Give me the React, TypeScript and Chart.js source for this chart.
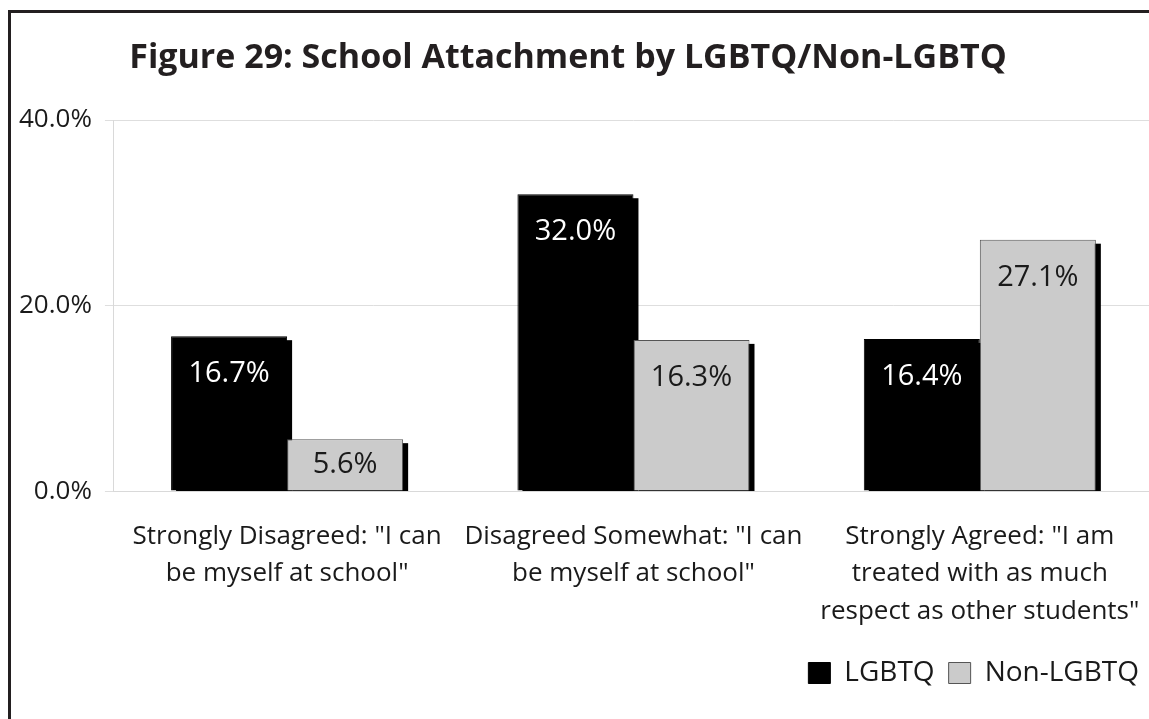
import React, { useEffect, useRef } from "react";
import { Chart, registerables } from "chart.js";

Chart.register(...registerables);

const chartTitle = "Figure 29: School Attachment by LGBTQ/Non-LGBTQ";
const categories: string[][] = [
  ['Strongly Disagreed: "I can', 'be myself at school"'],
  ['Disagreed Somewhat: "I can', 'be myself at school"'],
  ['Strongly Agreed: "I am', "treated with as much", 'respect as other students"'],
];
const seriesNames = ["LGBTQ", "Non-LGBTQ"];
const lgbtqValues = [16.7, 32.0, 16.4];
const nonLgbtqValues = [5.6, 16.3, 27.1];
const yTickValues = [0, 20, 40];

const FONT = "'Open Sans', 'DejaVu Sans', sans-serif";
const CANVAS_W = 1153;

const titlePlugin = {
  id: "customTitle",
  afterDraw(chart: any) {
    const { ctx } = chart;
    ctx.save();
    ctx.font = `bold 34px ${FONT}`;
    ctx.fillStyle = "#231f20";
    ctx.textAlign = "center";
    ctx.textBaseline = "alphabetic";
    ctx.fillText(chartTitle, 568, 68);
    ctx.restore();
  },
};

const shadowPlugin = {
  id: "barShadow",
  beforeDatasetsDraw(chart: any) {
    const { ctx, chartArea } = chart;
    ctx.save();
    ctx.beginPath();
    ctx.rect(chartArea.left, chartArea.top, chartArea.right - chartArea.left, chartArea.bottom - chartArea.top);
    ctx.clip();
    ctx.fillStyle = "#000000";
    chart.data.datasets.forEach((_ds: any, i: number) => {
      const meta = chart.getDatasetMeta(i);
      meta.data.forEach((bar: any) => {
        const { x, y, base, width } = bar.getProps(["x", "y", "base", "width"], true);
        ctx.fillRect(x - width / 2 + 5, y + 4, width, base - y);
      });
    });
    ctx.restore();
  },
};

const labelPlugin = {
  id: "barLabels",
  afterDatasetsDraw(chart: any) {
    const { ctx } = chart;
    ctx.save();
    ctx.font = `29px ${FONT}`;
    ctx.textAlign = "center";
    ctx.textBaseline = "middle";
    chart.data.datasets.forEach((ds: any, i: number) => {
      const meta = chart.getDatasetMeta(i);
      meta.data.forEach((bar: any, j: number) => {
        const { x, y, base } = bar.getProps(["x", "y", "base"], true);
        const cy = Math.min(y + 38, (y + base) / 2);
        ctx.fillStyle = i === 0 ? "#ffffff" : "#1a1a1a";
        ctx.fillText(ds.data[j].toFixed(1) + "%", x, cy);
      });
    });
    ctx.restore();
  },
};

export default function App() {
  const canvasRef = useRef<HTMLCanvasElement | null>(null);

  useEffect(() => {
    document.body.style.margin = "0";
    const canvas = canvasRef.current;
    if (!canvas) return;
    const chart = new Chart(canvas, {
      type: "bar",
      data: {
        labels: categories,
        datasets: [
          {
            label: seriesNames[0],
            data: lgbtqValues,
            backgroundColor: "#000000",
            borderColor: "#000000",
            borderWidth: 1,
            categoryPercentage: 0.67,
            barPercentage: 1,
          },
          {
            label: seriesNames[1],
            data: nonLgbtqValues,
            backgroundColor: "#cbcbcb",
            borderColor: "#555555",
            borderWidth: 1,
            categoryPercentage: 0.67,
            barPercentage: 1,
          },
        ],
      },
      options: {
        animation: false,
        responsive: false,
        maintainAspectRatio: false,
        layout: { padding: { left: 6, right: 0, top: 120, bottom: 22 } },
        plugins: {
          title: { display: false },
          legend: {
            display: true,
            position: "bottom",
            align: "end",
            labels: {
              boxWidth: 22,
              boxHeight: 21,
              padding: 14,
              color: "#1a1a1a",
              font: { family: FONT, size: 28 },
            },
          },
          tooltip: { enabled: false },
        },
        scales: {
          x: {
            grid: { display: false, drawTicks: false },
            border: { display: true, color: "#d9d9d9", width: 1 },
            afterFit: (axis: any) => {
              axis.height = axis.height - 12;
              axis.paddingRight = 0;
              axis.paddingLeft = 0;
            },
            ticks: {
              color: "#1a1a1a",
              font: { family: FONT, size: 26, lineHeight: 1.46 },
              padding: 26,
              maxRotation: 0,
              autoSkip: false,
            },
          },
          y: {
            min: 0,
            max: 40,
            afterBuildTicks: (axis: any) => {
              axis.ticks = yTickValues.map((v) => ({ value: v }));
            },
            grid: { color: "#dedede", tickLength: 9, drawTicks: true },
            border: { display: true, color: "#d9d9d9" },
            ticks: {
              color: "#1a1a1a",
              font: { family: FONT, size: 26 },
              padding: 13,
              callback: (v: any) => Number(v).toFixed(1) + "%",
            },
          },
        },
      },
      plugins: [shadowPlugin, labelPlugin, titlePlugin],
    });
    return () => chart.destroy();
  }, []);

  return (
    <div style={{ position: "relative", width: 1149, height: 719, background: "#ffffff", overflow: "hidden" }}>
      <canvas ref={canvasRef} width={CANVAS_W} height={719} style={{ display: "block" }} />
      <div
        style={{
          position: "absolute",
          left: 8,
          top: 10,
          width: 1141,
          height: 709,
          borderTop: "3px solid #231f20",
          borderLeft: "3px solid #231f20",
          boxSizing: "border-box",
          pointerEvents: "none",
        }}
      />
    </div>
  );
}
